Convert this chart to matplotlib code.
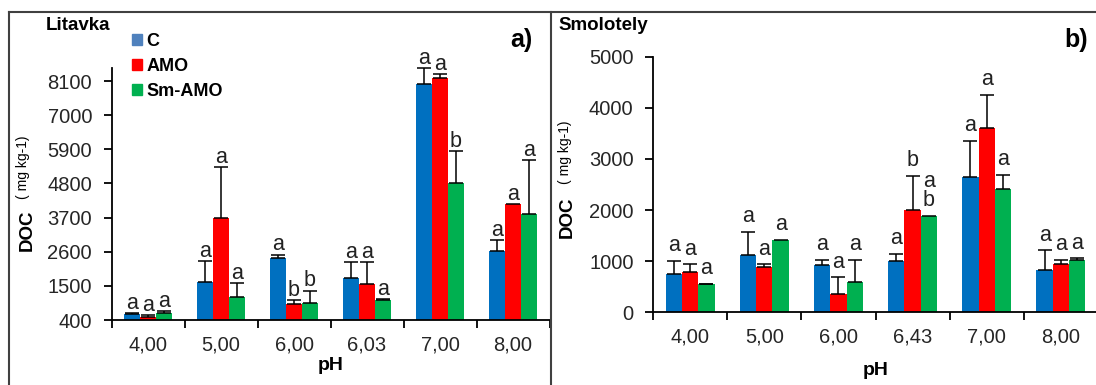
import numpy as np
import matplotlib
matplotlib.use("Agg")
import matplotlib.pyplot as plt
from matplotlib.lines import Line2D
from matplotlib.patches import Patch

plt.rcParams['font.family'] = ['Liberation Sans', 'DejaVu Sans']

ph_a = ["4,00", "5,00", "6,00", "6,03", "7,00", "8,00"]
ph_b = ["4,00", "5,00", "6,00", "6,43", "7,00", "8,00"]
series = ["C", "AMO", "Sm-AMO"]

# Litavka
lit_c = [580, 1620, 2390, 1760, 8000, 2630]
lit_c_err = [50, 690, 120, 510, 520, 340]
lit_amo = [490, 3700, 900, 1560, 8190, 4130]
lit_amo_err = [60, 1620, 130, 700, 130, np.nan]
lit_sm = [620, 1140, 940, 1050, 4810, 3830]
lit_sm_err = [70, 460, 410, 20, 1030, 1720]
lit_letters = [["a", "a", "a", "a", "a", "a"],
               ["a", "a", "b", "a", "a", "a"],
               ["a", "a", "b", "a", "b", "a"]]

# Smolotely
smo_c = [750, 1120, 920, 1000, 2640, 830]
smo_c_err = [250, 460, 110, 140, 720, 380]
smo_amo = [780, 890, 365, 2000, 3610, 945]
smo_amo_err = [160, 50, 320, 670, 650, 85]
smo_sm = [550, 1415, 600, 1885, 2405, 1030]
smo_sm_err = [10, np.nan, 420, np.nan, 290, 25]
smo_letters = [["a", "a", "a", "a", "a", "a"],
               ["a", "a", "a", "b", "a", "a"],
               ["a", "a", "a", "a\nb", "a", "a"]]

lit_ticks = [400, 1500, 2600, 3700, 4800, 5900, 7000, 8100]
smo_ticks = [0, 1000, 2000, 3000, 4000, 5000]

colors = ["#0070C0", "#FF0000", "#00B050"]
W, H = 1096, 385


def panel(ax, cats, means, errs, letters, yticks, ylim, letter_off, xlabelpad):
    x = np.arange(len(cats))
    w = 0.22
    for i, (m, e) in enumerate(zip(means, errs)):
        xs = x + (i - 1) * w
        ax.bar(xs, np.array(m) - ylim[0], w, bottom=ylim[0], color=colors[i], zorder=2)
        ax.errorbar(xs, m, yerr=[np.zeros(len(m)), e], fmt="none", ecolor="black",
                    elinewidth=1.1, capsize=5, capthick=1.1, zorder=3, clip_on=False)
        for j in range(len(m)):
            top = m[j] + (0 if np.isnan(e[j]) else e[j])
            ax.annotate(letters[i][j], (xs[j], top), xytext=(0, letter_off),
                        textcoords="offset points", ha="center", va="baseline",
                        fontsize=15.5, color="#222222", linespacing=0.9,
                        annotation_clip=False)
    ax.set_xlim(-0.5, len(cats) - 0.5)
    ax.set_ylim(*ylim)
    ax.set_yticks(yticks)
    ax.set_xticks(np.arange(len(cats) + 1) - 0.5)
    ax.set_xticklabels([])
    ax.set_xticks(x, minor=True)
    ax.set_xticklabels(cats, minor=True)
    ax.tick_params(axis="x", which="major", direction="out", length=6, width=1.3)
    ax.tick_params(axis="x", which="minor", length=0, pad=11, labelsize=14.5,
                   labelcolor="#262626")
    ax.tick_params(axis="y", direction="out", length=6, width=1.3, pad=8,
                   labelsize=14.5, labelcolor="#262626")
    for s in ["top", "right"]:
        ax.spines[s].set_visible(False)
    for s in ["left", "bottom"]:
        ax.spines[s].set_linewidth(1.3)
    ax.set_xlabel("pH", fontsize=14, fontweight="bold", labelpad=xlabelpad)


fig = plt.figure(figsize=(W / 100, H / 100), dpi=100)

ax1 = fig.add_axes([111.5 / W, 1 - 320 / H, 438 / W, 252 / H])
panel(ax1, ph_a, [lit_c, lit_amo, lit_sm], [lit_c_err, lit_amo_err, lit_sm_err],
      lit_letters, lit_ticks, (400, 8520), 3, 2)

ax2 = fig.add_axes([653 / W, 1 - 312.3 / H, 445 / W, 255.6 / H])
panel(ax2, ph_b, [smo_c, smo_amo, smo_sm], [smo_c_err, smo_amo_err, smo_sm_err],
      smo_letters, smo_ticks, (0, 5000), 7, 11)

# frame lines
fc = "#404040"
fig.add_artist(Line2D([9 / W, 1], [1 - 12 / H] * 2, color=fc, lw=1.5))
fig.add_artist(Line2D([9 / W] * 2, [0, 1 - 12 / H], color=fc, lw=1.5))
fig.add_artist(Line2D([551 / W] * 2, [0, 1 - 12 / H], color=fc, lw=1.5))

# titles and panel letters
fig.text(46 / W, 1 - 26 / H, "Litavka", fontsize=13.5, fontweight="bold", va="center")
fig.text(558 / W, 1 - 26 / H, "Smolotely", fontsize=13.5, fontweight="bold", va="center")
fig.text(521 / W, 1 - 40 / H, "a)", fontsize=18, fontweight="bold", ha="center", va="center")
fig.text(1076 / W, 1 - 40 / H, "b)", fontsize=18, fontweight="bold", ha="center", va="center")

# y labels
for xd, yd, xu, yu in [(27, 230, 23, 167), (567, 217, 565, 152)]:
    fig.text(xd / W, 1 - yd / H, "DOC", fontsize=13.5, fontweight="bold",
             rotation=90, ha="center", va="center")
    fig.text(xu / W, 1 - yu / H, "( mg kg-1)", fontsize=10,
             rotation=90, ha="center", va="center")

handles = [Patch(color=c) for c in ["#4F81BD", "#FF0000", "#00B050"]]
fig.legend(handles, series, loc="upper left", bbox_to_anchor=(123 / W, 1 - 24 / H),
           frameon=False, borderpad=0, handlelength=0.55, handleheight=0.55,
           handletextpad=0.25, labelspacing=0.45,
           prop={"size": 13, "weight": "bold"})

fig.savefig("out.png", dpi=100)
